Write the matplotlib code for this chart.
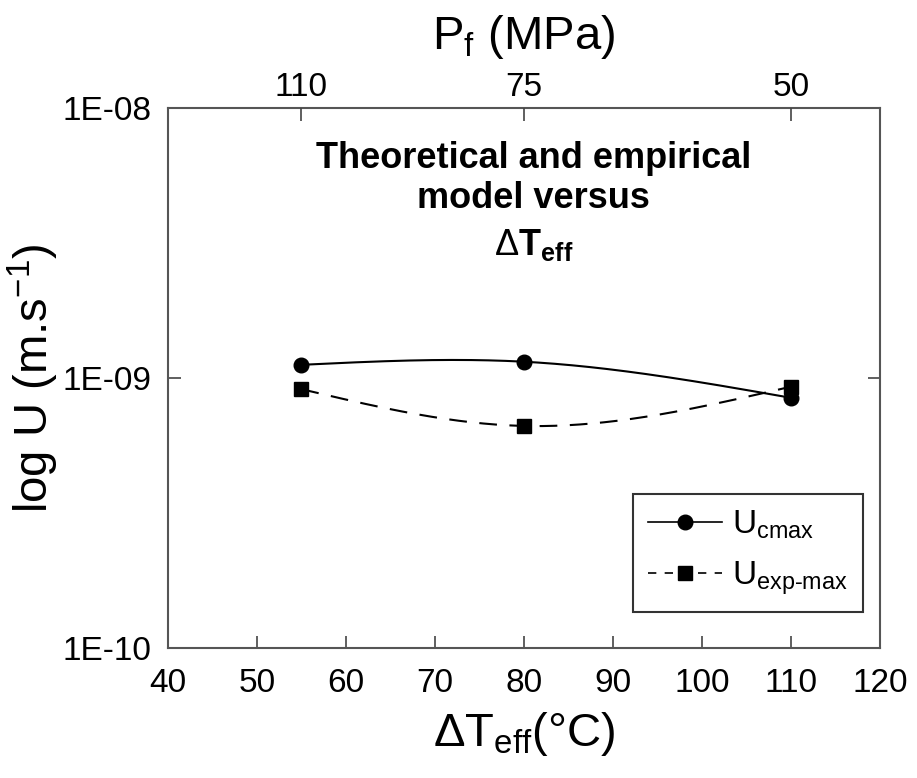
import numpy as np
import matplotlib
matplotlib.use('Agg')
import matplotlib.pyplot as plt

plt.rcParams['font.family'] = ['Liberation Sans', 'DejaVu Sans']
plt.rcParams['mathtext.fontset'] = 'custom'
plt.rcParams['mathtext.rm'] = 'Liberation Sans'
plt.rcParams['mathtext.it'] = 'Liberation Sans'
plt.rcParams['mathtext.bf'] = 'Liberation Sans:bold'

# data
dT_eff = [55, 80, 110]
U_cmax = [1.12e-9, 1.15e-9, 0.845e-9]
U_exp_max = [0.91e-9, 0.665e-9, 0.93e-9]

top_tick_pos = [55, 80, 110]
top_tick_labels = ['110', '75', '50']
x_ticks = [40, 50, 60, 70, 80, 90, 100, 110, 120]
y_ticks = [1e-10, 1e-9, 1e-8]
y_tick_labels = ['1E-10', '1E-09', '1E-08']


def natural_spline(x, y, n=200):
    # natural cubic spline through the points, like the smooth line in the source
    x = np.asarray(x, float)
    y = np.asarray(y, float)
    k = len(x)
    h = np.diff(x)
    A = np.zeros((k, k))
    b = np.zeros(k)
    A[0, 0] = 1
    A[-1, -1] = 1
    for i in range(1, k - 1):
        A[i, i - 1] = h[i - 1]
        A[i, i] = 2 * (h[i - 1] + h[i])
        A[i, i + 1] = h[i]
        b[i] = 6 * ((y[i + 1] - y[i]) / h[i] - (y[i] - y[i - 1]) / h[i - 1])
    M = np.linalg.solve(A, b)
    xs = np.linspace(x[0], x[-1], n)
    ys = np.empty_like(xs)
    for j, xv in enumerate(xs):
        i = min(np.searchsorted(x, xv, side='right') - 1, k - 2)
        t0 = x[i + 1] - xv
        t1 = xv - x[i]
        ys[j] = (M[i] * t0 ** 3 / (6 * h[i]) + M[i + 1] * t1 ** 3 / (6 * h[i])
                 + (y[i] / h[i] - M[i] * h[i] / 6) * t0
                 + (y[i + 1] / h[i] - M[i + 1] * h[i] / 6) * t1)
    return xs, ys


fig = plt.figure(figsize=(9.17, 7.78), dpi=100)
ax = fig.add_axes([0.183, 0.167, 0.777, 0.694])

xs, ys = natural_spline(dT_eff, np.log10(U_cmax))
ax.plot(xs, 10 ** ys, color='black', lw=1.5)
ax.plot(dT_eff, U_cmax, 'o', color='black', ms=10.5)
xs, ys = natural_spline(dT_eff, np.log10(U_exp_max))
ax.plot(xs, 10 ** ys, color='black', lw=1.5, dashes=(8.5, 6))
ax.plot(dT_eff, U_exp_max, 's', color='black', ms=9.5)

# legend handles
ax.plot([], [], '-o', color='black', lw=1.2, ms=10.5, label=r'U$_{\mathregular{cmax}}$')
ax.plot([], [], '-s', color='black', lw=1.2, ms=9.5, dashes=(5, 5),
        label=r'U$_{\mathregular{exp\text{-}max}}$')

ax.set_yscale('log')
ax.set_xlim(40, 120)
ax.set_ylim(1e-10, 1e-8)
ax.set_xticks(x_ticks)
ax.set_yticks(y_ticks)
ax.set_yticklabels(y_tick_labels)
ax.minorticks_off()
ax.tick_params(direction='in', length=9, width=1.2, labelsize=24, right=True,
               color='#444444')
ax.tick_params(axis='x', pad=14)
ax.tick_params(axis='y', pad=12)
for s in ax.spines.values():
    s.set_color('#555555')
    s.set_linewidth(1.5)

ax.set_xlabel(r'$\Delta$T$_{\mathregular{eff}}$(°C)', fontsize=34, labelpad=8)
ax.set_ylabel(r'log U (m.s$^{\mathregular{-1}}$)', fontsize=34)
ax.yaxis.set_label_coords(-0.15, 0.5)

top = ax.twiny()
top.set_xlim(ax.get_xlim())
top.set_xticks(top_tick_pos)
top.set_xticklabels(top_tick_labels)
top.tick_params(direction='in', length=9, width=1.2, labelsize=24, pad=4, color='#444444')
top.set_xlabel(r'P$_{\mathregular{f}}$ (MPa)', fontsize=34, labelpad=16)
for s in top.spines.values():
    s.set_visible(False)

ax.text(0.513, 0.94, 'Theoretical and empirical\nmodel versus', transform=ax.transAxes,
        ha='center', va='top', fontsize=26, fontweight='bold', linespacing=1.2)
ax.text(0.513, 0.78, r'$\Delta$T$_{\mathbf{eff}}$', transform=ax.transAxes,
        ha='center', va='top', fontsize=26, fontweight='bold')

leg = ax.legend(loc='lower right', bbox_to_anchor=(0.975, 0.067), fontsize=24,
                fancybox=False, edgecolor='#333333', framealpha=1, handlelength=2.2,
                borderpad=0.45, labelspacing=0.55, handletextpad=0.3, borderaxespad=0)
leg.get_frame().set_linewidth(1.5)

fig.savefig('out.png', dpi=100)
